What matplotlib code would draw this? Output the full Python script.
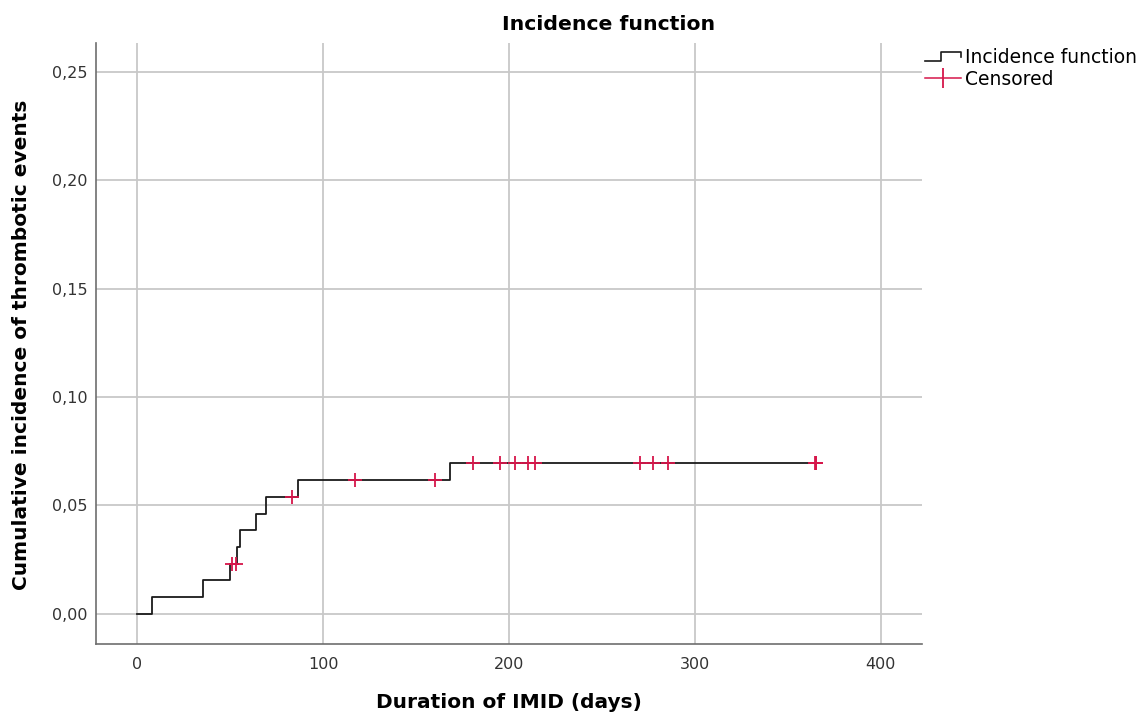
import numpy as np
import matplotlib
matplotlib.use("Agg")
import matplotlib.pyplot as plt
from matplotlib.lines import Line2D
from matplotlib.legend_handler import HandlerBase

# ---- data ----
step_times = [0, 8, 35.6, 50, 53.6, 55.4, 63.8, 69.5, 86.6, 168.5]
step_levels = [0.0, 0.0077, 0.0154, 0.0231, 0.0308, 0.0385, 0.0462, 0.0540, 0.0617, 0.0698]
end_time = 365
censor_times = [51, 53, 83.5, 117.4, 160.4, 180.5, 195.3, 203.4, 210.4, 214.1,
                270.3, 277.2, 285.3, 364.6, 365, 365.4]
x_ticks = [0, 100, 200, 300, 400]
y_ticks = [0.00, 0.05, 0.10, 0.15, 0.20, 0.25]
y_tick_labels = ["0,00", "0,05", "0,10", "0,15", "0,20", "0,25"]

plt.rcParams['font.family'] = ['DejaVu Sans']

W, H = 1139, 714
fig = plt.figure(figsize=(W / 100, H / 100), dpi=100)
ax = fig.add_axes([96 / W, 1 - 644.3 / H, (921.7 - 96) / W, (644.3 - 42.7) / H])

xs = list(step_times) + [end_time]
ys = list(step_levels) + [step_levels[-1]]
ax.step(xs, ys, where='post', color='#1a1a1a', lw=1.3, zorder=3)

st = np.array(step_times)
lv = np.array(step_levels)
cy = lv[np.searchsorted(st, np.array(censor_times), side='right') - 1]
red = '#d6164a'
ax.plot(censor_times, cy, ls='none', marker='+', ms=10, mew=1.3, color=red, zorder=4)

ax.set_xlim(-22.2, 422)
ax.set_ylim(-0.0141, 0.2636)
ax.set_xticks(x_ticks)
ax.set_yticks(y_ticks)
ax.set_yticklabels(y_tick_labels)
ax.grid(True, color='#c8c8c8', lw=1.3)
ax.set_axisbelow(True)
for s in ['top', 'right']:
    ax.spines[s].set_visible(False)
for s in ['left', 'bottom']:
    ax.spines[s].set_color('#6e6e6e')
    ax.spines[s].set_linewidth(1.2)
ax.tick_params(length=0, labelsize=11.5, labelcolor='#333333')
ax.tick_params(axis='x', pad=9)
ax.tick_params(axis='y', pad=6)

fig.text(609 / W, 1 - 25 / H, "Incidence function", ha='center', va='center',
         fontsize=14.7, fontweight='bold')
fig.text(509 / W, 1 - 703 / H, "Duration of IMID (days)", ha='center', va='center',
         fontsize=14.5, fontweight='bold')
fig.text(22 / W, 1 - 345 / H, "Cumulative incidence of thrombotic events", ha='center',
         va='center', rotation=90, fontsize=14.5, fontweight='bold')


class HandlerStep(HandlerBase):
    def create_artists(self, legend, orig_handle, xdescent, ydescent, width, height,
                       fontsize, trans):
        x0, y0 = -xdescent, -ydescent
        px = [x0, x0 + width * 0.45, x0 + width * 0.45, x0 + width, x0 + width]
        py = [y0 + height * 0.15, y0 + height * 0.15, y0 + height * 0.85,
              y0 + height * 0.85, y0 + height * 0.45]
        ln = Line2D(px, py, color='#1a1a1a', lw=1.2, transform=trans)
        return [ln]


h1 = Line2D([], [], color='black')
h2 = Line2D([], [], color=red, lw=1.1, marker='|', ms=14, mew=1.3)
fig.legend([h1, h2], ["Incidence function", "Censored"],
           handler_map={h1: HandlerStep()},
           loc='upper left', bbox_to_anchor=(923 / W, 1 - 46 / H), frameon=False,
           fontsize=13.5, handlelength=1.9, handletextpad=0.25, labelspacing=0.15,
           borderaxespad=0, borderpad=0.1)

fig.savefig("out.png", dpi=100)
